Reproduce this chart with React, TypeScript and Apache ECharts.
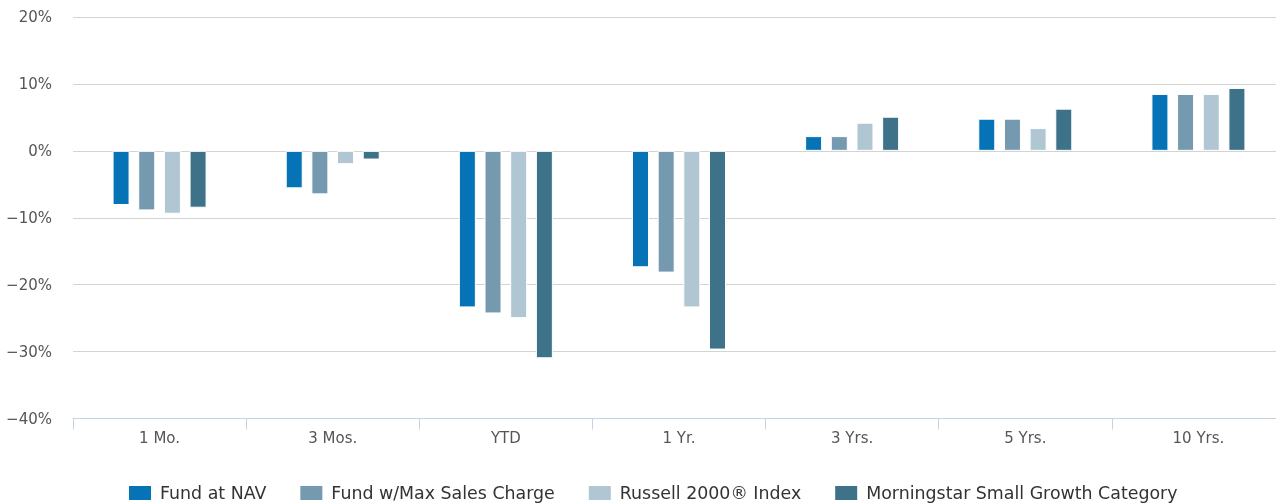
import React, { useEffect, useRef } from "react";
import * as echarts from "echarts";

const categories = ["1 Mo.", "3 Mos.", "YTD", "1 Yr.", "3 Yrs.", "5 Yrs.", "10 Yrs."];
const seriesNames = [
  "Fund at NAV",
  "Fund w/Max Sales Charge",
  "Russell 2000® Index",
  "Morningstar Small Growth Category",
];
const fundAtNav = [-8.1, -5.6, -23.4, -17.4, 2.2, 4.8, 8.5];
const fundMaxCharge = [-8.9, -6.5, -24.3, -18.2, 2.2, 4.8, 8.5];
const russell2000 = [-9.4, -2.0, -25.0, -23.4, 4.2, 3.4, 8.5];
const morningstar = [-8.5, -1.3, -31.0, -29.7, 5.1, 6.3, 9.4];
const seriesColors = ["#0673b7", "#7599ae", "#b0c6d3", "#3d7289"];
const yMin = -40;
const yMax = 20;
const yStep = 10;

const FONT = "DejaVu Sans";

export default function App() {
  const ref = useRef<HTMLDivElement>(null);
  useEffect(() => {
    if (!ref.current) return;
    const chart = echarts.init(ref.current, undefined, { renderer: "svg" });
    const values = [fundAtNav, fundMaxCharge, russell2000, morningstar];
    chart.setOption({
      animation: false,
      grid: { left: 73, right: 0, top: 17, bottom: 85.5, containLabel: false },
      legend: {
        left: 127,
        top: 484,
        padding: 0,
        itemWidth: 24,
        itemHeight: 16,
        itemGap: 32,
        icon: "rect",
        selectedMode: false,
        textStyle: { fontFamily: FONT, fontSize: 17.4, color: "#333", padding: [0, 0, 0, 3] },
        data: seriesNames,
      },
      xAxis: {
        type: "category",
        data: categories,
        axisLine: { onZero: false, lineStyle: { color: "#c5d3e2", width: 1 } },
        axisTick: { show: true, length: 11, lineStyle: { color: "#c5d3e2" } },
        axisLabel: { fontFamily: FONT, fontSize: 15, color: "#555", margin: 12 },
      },
      yAxis: {
        type: "value",
        min: yMin,
        max: yMax,
        interval: yStep,
        axisLine: { show: false },
        axisTick: { show: false },
        splitLine: { lineStyle: { color: "#d3d3d3", width: 1 } },
        axisLabel: {
          fontFamily: FONT,
          fontSize: 15,
          color: "#555",
          margin: 21,
          formatter: (v: number) => (v < 0 ? "\u2212" + Math.abs(v) + "%" : v + "%"),
        },
      },
      series: seriesNames.map((name, i) => ({
        name,
        type: "bar",
        data: values[i],
        barWidth: 17,
        barGap: "51%",
        itemStyle: { color: seriesColors[i], borderColor: "#fff", borderWidth: 1 },
      })),
    });
    return () => chart.dispose();
  }, []);
  return (
    <div
      ref={ref}
      style={{ position: "fixed", left: 0, top: 0, width: 1285, height: 504 }}
    />
  );
}
